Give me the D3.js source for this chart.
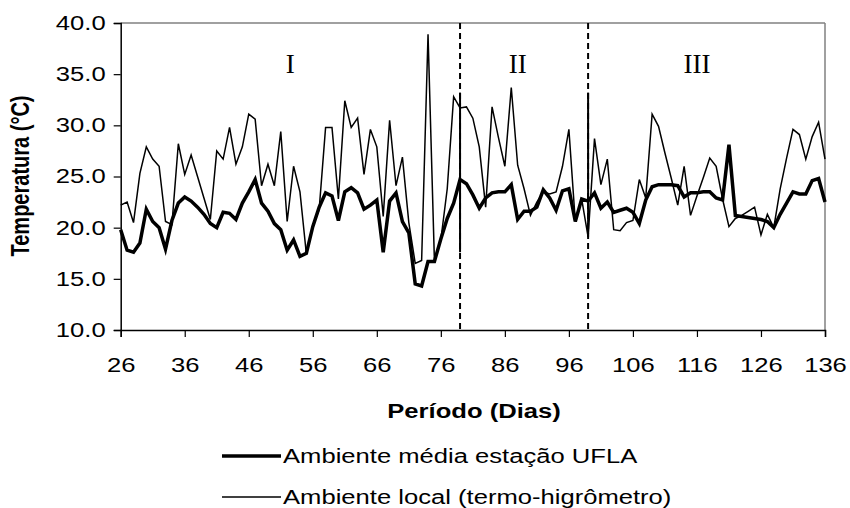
<!DOCTYPE html>
<html><head><meta charset="utf-8">
<script src="https://cdn.jsdelivr.net/npm/d3@7"></script>
<style>body{margin:0;background:#fff}svg{display:block}</style>
</head><body>
<script>
const days = d3.range(26, 137);
const stationTemp = [19.8,17.8,17.6,18.5,21.8,20.6,20.0,17.9,20.7,22.4,
23.0,22.6,22.0,21.3,20.4,20.0,21.5,21.4,20.8,22.4,
23.5,24.7,22.4,21.6,20.4,19.8,17.8,18.8,17.2,17.5,
20.1,22.0,23.4,23.1,20.7,23.5,23.9,23.4,21.8,22.2,
22.7,17.6,22.6,23.4,20.6,19.5,14.5,14.3,16.7,16.7,
18.9,20.9,22.4,24.7,24.3,23.2,21.9,22.9,23.4,23.5,
23.5,24.2,20.8,21.6,21.6,22.0,23.7,22.9,21.7,23.6,
23.8,20.6,22.8,22.6,23.4,21.9,22.5,21.5,21.7,21.9,
21.5,20.4,22.7,24.0,24.2,24.2,24.2,24.1,23.0,23.4,
23.4,23.5,23.5,22.9,22.7,28.1,21.2,21.1,21.0,20.9,
20.8,20.6,20.0,21.3,22.4,23.5,23.3,23.3,24.6,24.8,22.5];
const localTemp = [22.2,22.5,20.5,25.3,27.9,26.7,26.0,20.6,20.3,28.2,
25.2,27.1,25.0,22.9,20.8,27.5,26.7,29.8,26.2,27.9,
31.1,30.6,24.1,26.2,24.1,29.4,20.6,26.0,23.5,17.4,
20.1,21.8,29.8,29.8,22.8,32.4,29.8,30.7,25.2,29.6,
27.9,21.1,30.5,24.1,26.9,20.5,16.5,16.8,38.9,16.7,
18.8,23.8,32.8,31.7,31.8,30.7,27.9,22.0,31.8,28.8,
26.0,33.7,26.1,23.8,21.2,22.5,23.5,23.3,23.5,26.0,
29.6,20.6,22.8,19.1,28.7,24.2,26.7,19.8,19.7,20.5,
20.7,24.7,22.9,31.1,29.9,27.3,24.8,22.2,26.0,21.2,
23.1,24.9,26.8,26.0,22.8,20.1,20.9,21.2,21.6,22.0,
19.3,21.3,20.0,23.8,26.8,29.6,29.1,26.7,28.9,30.3,26.7];
const xTicks = [26,36,46,56,66,76,86,96,106,116,126,136];
const yTicks = [10,15,20,25,30,35,40];
const periodDividers = [79, 99];
const dividerSolidLow = [17.6, 19.1];
const dividerSolidHigh = [33.2, 33.2];
const periodLabels = ["I","II","III"];
const periodLabelDays = [52.5, 88, 116];
const seriesNames = ["Ambiente média estação UFLA","Ambiente local (termo-higrômetro)"];

const W = 850, H = 508, SX = 1.28;
const svg = d3.select("body").append("svg").attr("width", W).attr("height", H);
const x = d3.scaleLinear().domain([26,136]).range([120.7, 825]);
const y = d3.scaleLinear().domain([10,40]).range([330, 23]);
const font = "'Liberation Sans', Arial, sans-serif";

function stretch(sel){
  sel.each(function(){
    const t = d3.select(this);
    const tx = +t.attr("x") || 0, ty = +t.attr("y") || 0;
    t.attr("x", 0).attr("y", 0).attr("transform", `translate(${tx},${ty}) scale(${SX},1)`);
  });
}

// frame top and right
svg.append("line").attr("x1", x(26)).attr("x2", x(136)).attr("y1", y(40)).attr("y2", y(40))
  .attr("stroke", "#808080").attr("stroke-width", 1.5);
svg.append("line").attr("x1", x(136)).attr("x2", x(136)).attr("y1", y(40)).attr("y2", y(10))
  .attr("stroke", "#808080").attr("stroke-width", 1.5);

// axes
const gy = svg.append("g").attr("transform", `translate(${x(26)},0)`)
  .call(d3.axisLeft(y).tickValues(yTicks).tickSize(7).tickPadding(8).tickFormat(d3.format(".1f")));
const gx = svg.append("g").attr("transform", `translate(0,${y(10)})`)
  .call(d3.axisBottom(x).tickValues(xTicks).tickSize(7).tickPadding(21).tickFormat(d3.format("d")));
[gx, gy].forEach(g => {
  g.select(".domain").attr("stroke", "#000").attr("stroke-width", 1.5);
  g.selectAll(".tick line").attr("stroke", "#000").attr("stroke-width", 1.2);
  g.selectAll("text").attr("font-family", font).attr("font-size", 20).attr("fill", "#000");
});
gy.selectAll(".tick text").each(function(){
  const t = d3.select(this);
  t.attr("transform", `translate(${t.attr("x")},0) scale(${SX},1)`).attr("x", 0);
});
gx.selectAll(".tick text").each(function(){
  const t = d3.select(this);
  t.attr("transform", `translate(0,${t.attr("y")}) scale(${SX},1)`).attr("y", 0);
});

// dividers
svg.selectAll(".div").data(periodDividers).join("line")
  .attr("x1", d => x(d)).attr("x2", d => x(d)).attr("y1", y(40)).attr("y2", y(10))
  .attr("stroke", "#000").attr("stroke-width", 2).attr("stroke-dasharray", "6,4");
svg.selectAll(".divs").data(periodDividers).join("line")
  .attr("x1", d => x(d)).attr("x2", d => x(d))
  .attr("y1", (d,i) => y(dividerSolidHigh[i])).attr("y2", (d,i) => y(dividerSolidLow[i]))
  .attr("stroke", "#000").attr("stroke-width", 2);

// lines
const line = d3.line().x((d,i) => x(days[i])).y(d => y(d));
svg.append("path").datum(localTemp).attr("d", line).attr("fill", "none")
  .attr("stroke", "#000").attr("stroke-width", 1.5).attr("stroke-linejoin", "miter");
svg.append("path").datum(stationTemp).attr("d", line).attr("fill", "none")
  .attr("stroke", "#000").attr("stroke-width", 3.5).attr("stroke-linejoin", "miter");

// period labels
svg.selectAll(".pl").data(periodLabels).join("text")
  .attr("x", (d,i) => x(periodLabelDays[i])).attr("y", 73)
  .attr("text-anchor", "middle").attr("font-family", "'Liberation Serif', 'Times New Roman', serif")
  .attr("font-size", 27).text(d => d);

// axis titles
svg.append("text").attr("x", 474).attr("y", 418).attr("text-anchor", "middle")
  .attr("font-family", font).attr("font-weight", "bold").attr("font-size", 20).text("Período (Dias)")
  .call(stretch);
svg.append("text").attr("text-anchor", "middle")
  .attr("transform", `translate(29,176) scale(${SX},1) rotate(-90)`)
  .attr("font-family", font).attr("font-weight", "bold").attr("font-size", 20).text("Temperatura (°C)");

// legend
const legY = [456, 497], legW = [3.5, 1.5];
seriesNames.forEach((n, i) => {
  svg.append("line").attr("x1", 222).attr("x2", 281).attr("y1", legY[i]).attr("y2", legY[i])
    .attr("stroke", "#000").attr("stroke-width", legW[i]);
  svg.append("text").attr("x", 283).attr("y", legY[i] + 7).attr("font-family", font)
    .attr("font-size", 20).text(n).call(stretch);
});
</script>
</body></html>
